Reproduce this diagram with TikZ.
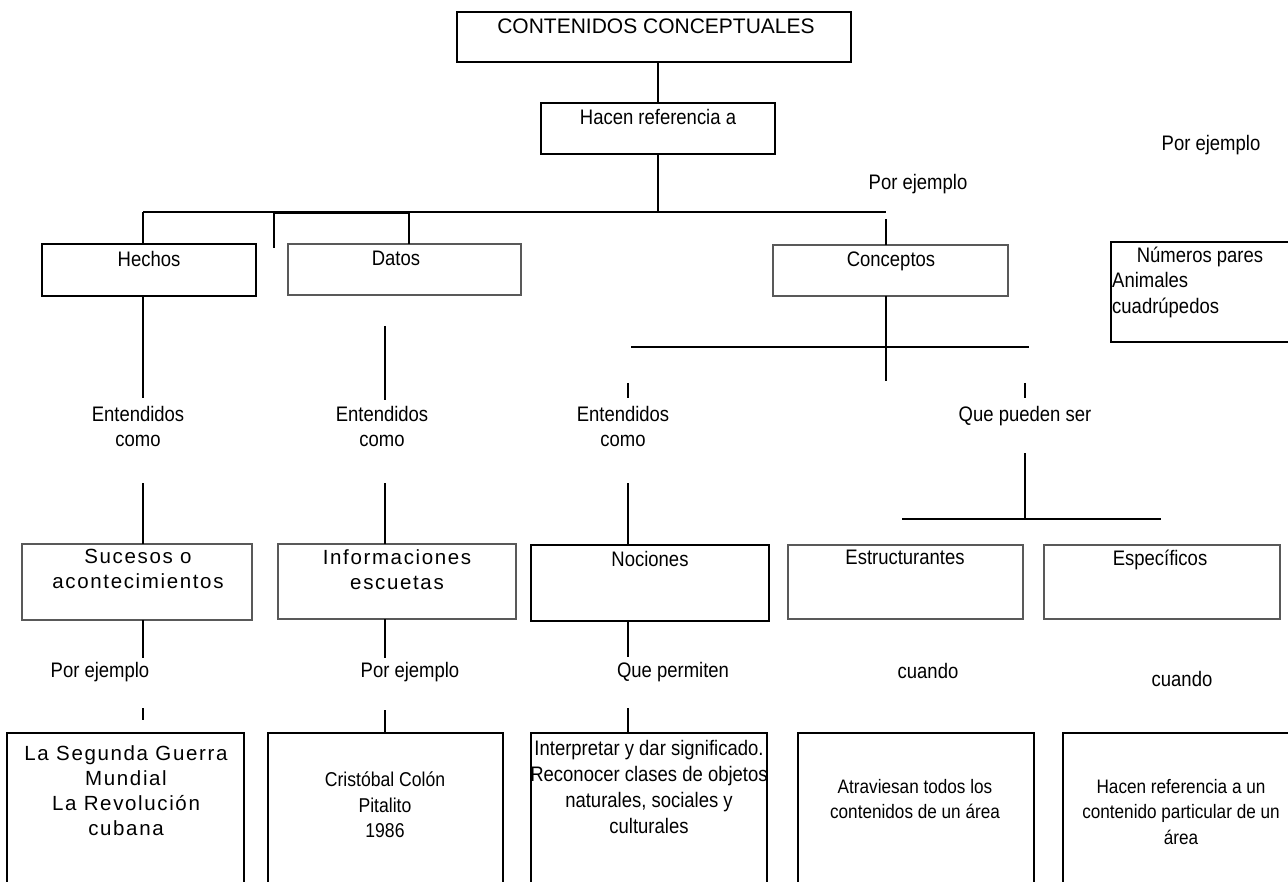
\documentclass[tikz,border=0pt]{standalone}
\usepackage{fontspec}
\setmainfont{Liberation Sans}[FakeStretch=0.88]
\newfontfamily\titlefont{Liberation Sans}
\newfontfamily\spacedfont{Liberation Sans}[LetterSpace=8]
\begin{document}
\begin{tikzpicture}[x=1pt,y=-1pt,
  box/.style={draw=black, line width=1.8pt, inner sep=0pt, outer sep=0pt, anchor=north west},
  thickbox/.style={box, line width=2.4pt},
  gbox/.style={box, draw=black!65, line width=1.2pt},
  lbl/.style={inner sep=0pt, anchor=north, align=center, font=\fontsize{21}{25.5}\selectfont},
  smlbl/.style={lbl, font=\fontsize{19.5}{25.5}\selectfont},
  slbl/.style={lbl, font=\fontsize{20.5}{25}\selectfont\spacedfont},
  ln/.style={line width=1.6pt, draw=black}]
\useasboundingbox (0,0) rectangle (1288,882);
\clip (0,0) rectangle (1288,882);
% boxes
\node[box, minimum width=394, minimum height=50] (title) at (457,12) {};
\node[box, minimum width=234, minimum height=51] (hacen) at (541,103) {};
\node[thickbox, minimum width=214, minimum height=52] (hechos) at (42,244) {};
\node[gbox, minimum width=233, minimum height=51] (datos) at (288,244) {};
\node[gbox, minimum width=235, minimum height=51] (conc) at (773,245) {};
\node[box, minimum width=200, minimum height=100] (num) at (1111,242) {};
\node[gbox, minimum width=230, minimum height=76] (suc) at (22,544) {};
\node[gbox, minimum width=238, minimum height=75] (inf) at (278,544) {};
\node[box, minimum width=238, minimum height=76] (noc) at (531,545) {};
\node[gbox, minimum width=235, minimum height=74] (est) at (788,545) {};
\node[gbox, minimum width=236, minimum height=74] (esp) at (1044,545) {};
\node[box, minimum width=237, minimum height=200] (b1) at (7,733) {};
\node[box, minimum width=235, minimum height=200] (b2) at (268,733) {};
\node[box, minimum width=236, minimum height=200] (b3) at (531,733) {};
\node[box, minimum width=236, minimum height=200] (b4) at (798,733) {};
\node[box, minimum width=240, minimum height=200] (b5) at (1063,733) {};
% texts
\node[lbl, font=\fontsize{21}{25}\selectfont\titlefont] (ttitle) at (656,19) {CONTENIDOS CONCEPTUALES};
\node[lbl] (thacen) at (658,109) {Hacen referencia a};
\node[lbl] (tpor1) at (918,174) {Por ejemplo};
\node[lbl] (tpor2) at (1211,135) {Por ejemplo};
\node[lbl] (thechos) at (149,251) {Hechos};
\node[lbl] (tdatos) at (396,251) {Datos};
\node[lbl] (tconc) at (891,252) {Conceptos};
\node[lbl] (tnum) at (1200,247) {Números pares};
\node[lbl, anchor=north west, align=left, font=\fontsize{21}{26}\selectfont] (tanim) at (1112,272) {Animales\\cuadrúpedos};
\node[lbl] (ent1) at (138,406) {Entendidos\\como};
\node[lbl] (ent2) at (382,406) {Entendidos\\como};
\node[lbl] (ent3) at (623,406) {Entendidos\\como};
\node[lbl] (tque) at (1025,406) {Que pueden ser};
\node[slbl] (tsuc) at (138,549) {Sucesos o\\acontecimientos};
\node[slbl] (tinf) at (397,549) {Informaciones\\escuetas};
\node[lbl] (tnoc) at (650,551) {Nociones};
\node[lbl] (test) at (905,550) {Estructurantes};
\node[lbl] (tesp) at (1160,550) {Específicos};
\node[lbl] (tpe1) at (100,662) {Por ejemplo};
\node[lbl] (tpe2) at (410,662) {Por ejemplo};
\node[lbl] (tperm) at (673,662) {Que permiten};
\node[lbl] (tcu1) at (928,663) {cuando};
\node[lbl] (tcu2) at (1182,671) {cuando};
\node[slbl] (tb1) at (126,745) {La Segunda Guerra\\Mundial\\La Revolución\\cubana};
\node[smlbl, font=\fontsize{20}{25.5}\selectfont] (tb2) at (385,772) {Cristóbal Colón\\Pitalito\\1986};
\node[lbl, font=\fontsize{21}{26}\selectfont] (tb3) at (649,740) {Interpretar y dar significado.\\Reconocer clases de objetos\\naturales, sociales y\\culturales};
\node[smlbl] (tb4) at (915,779) {Atraviesan todos los\\contenidos de un área};
\node[smlbl] (tb5) at (1181,779) {Hacen referencia a un\\contenido particular de un\\área};
% connectors
\draw[ln] (hacen.north |- title.south) -- (hacen.north);
\coordinate (mj) at (658,212);
\draw[ln] (hacen.south) -- (mj);
\coordinate (hl) at (143,212);
\coordinate (hr) at (886,212);
\draw[ln] (hl) -- (hr);
\coordinate (ta) at (274,213);
\coordinate (tb) at (409,213);
\coordinate (tae) at (274,248);
\draw[line width=2.4pt] (ta) -- (tb);
\draw[ln] (ta) -- (tae);
\draw[ln] (tb) -- (tb |- datos.north);
\draw[ln] (hl) -- (hl |- hechos.north);
\coordinate (cr) at (886,219);
\draw[ln] (cr) -- (cr |- conc.north);
% Hechos column
\coordinate (h1) at (143,398);
\coordinate (h2) at (143,483);
\draw[ln] (hechos.south -| h1) -- (h1);
\draw[ln] (h2) -- (h2 |- suc.north);
\coordinate (h3) at (143,658);
\coordinate (h4) at (143,708);
\coordinate (h5) at (143,720);
\draw[ln] (suc.south -| h3) -- (h3);
\draw[ln] (h4) -- (h5);
% Datos column
\coordinate (d0) at (385,326);
\coordinate (d1) at (385,400);
\coordinate (d2) at (385,483);
\draw[ln] (d0) -- (d1);
\draw[ln] (d2) -- (d2 |- inf.north);
\coordinate (d3) at (385,658);
\coordinate (d4) at (385,710);
\draw[ln] (inf.south -| d3) -- (d3);
\draw[ln] (d4) -- (d4 |- b2.north);
% Conceptos
\coordinate (c1) at (886,381);
\draw[ln] (conc.south -| c1) -- (c1);
\coordinate (cl) at (631,347);
\coordinate (crr) at (1029,347);
\draw[ln] (cl) -- (crr);
\coordinate (e1) at (628,383);
\coordinate (e2) at (628,398);
\draw[ln] (e1) -- (e2);
\coordinate (q1) at (1025,383);
\coordinate (q2) at (1025,398);
\draw[ln] (q1) -- (q2);
\coordinate (e3) at (628,483);
\draw[ln] (e3) -- (e3 |- noc.north);
\coordinate (q3) at (1025,453);
\coordinate (q4) at (1025,519);
\draw[ln] (q3) -- (q4);
\coordinate (sl) at (902,519);
\coordinate (sr) at (1161,519);
\draw[ln] (sl) -- (sr);
\coordinate (n1) at (628,657);
\coordinate (n2) at (628,708);
\draw[ln] (noc.south -| n1) -- (n1);
\draw[ln] (n2) -- (n2 |- b3.north);
\end{tikzpicture}
\end{document}
